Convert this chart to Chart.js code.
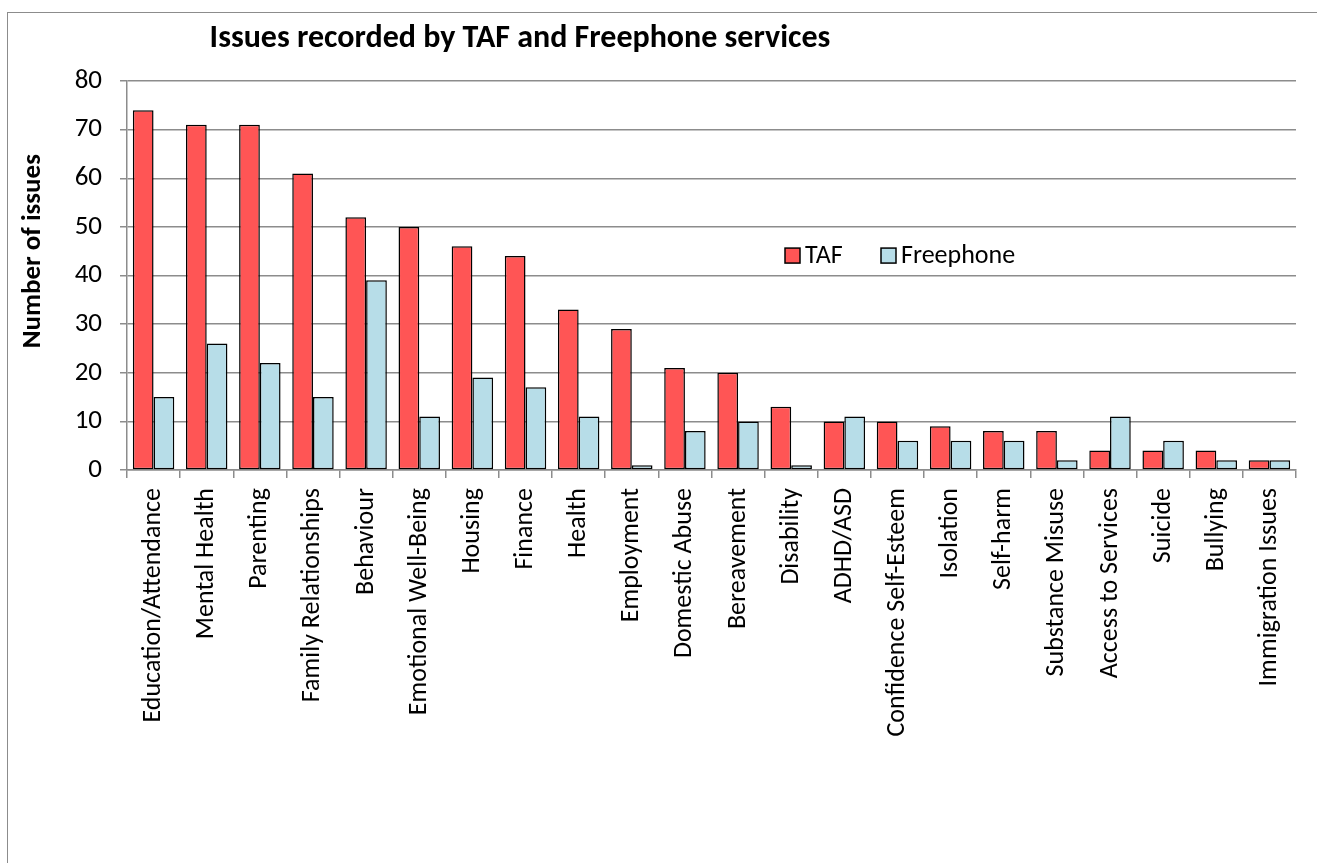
<!DOCTYPE html>
<html>
<head>
<meta charset="utf-8">
<script src="https://cdn.jsdelivr.net/npm/chart.js@4.4.1/dist/chart.umd.min.js"></script>
<style>
  html, body { margin: 0; padding: 0; background: #fff; }
  #frame { position: absolute; left: 7px; top: 12px; width: 1330px; height: 900px; border: 1.5px solid #8c8c8c; }
  #myChart { position: absolute; left: 0; top: 0; }
</style>
</head>
<body>
<div id="frame"></div>
<canvas id="myChart" width="1317" height="863"></canvas>
<script>
// data
const categories = ['Education/Attendance', 'Mental Health', 'Parenting', 'Family Relationships', 'Behaviour',
  'Emotional Well-Being', 'Housing', 'Finance', 'Health', 'Employment', 'Domestic Abuse', 'Bereavement',
  'Disability', 'ADHD/ASD', 'Confidence Self-Esteem', 'Isolation', 'Self-harm', 'Substance Misuse',
  'Access to Services', 'Suicide', 'Bullying', 'Immigration Issues'];
const tafValues = [74, 71, 71, 61, 52, 50, 46, 44, 33, 29, 21, 20, 13, 10, 10, 9, 8, 8, 4, 4, 4, 2];
const freephoneValues = [15, 26, 22, 15, 39, 11, 19, 17, 11, 1, 8, 10, 1, 11, 6, 6, 6, 2, 11, 6, 2, 2];
const seriesNames = ['TAF', 'Freephone'];
const seriesColors = ['#ff5555', '#b7dde8'];

const FONT = "Carlito, Calibri, 'Liberation Sans', sans-serif";

// titel, y-as titel en legenda zelf tekenen (staan niet op de standaard plek)
const extras = {
  id: 'extras',
  afterDraw(chart) {
    const ctx = chart.ctx;
    const area = chart.chartArea;
    const y = chart.scales.y.getPixelForValue(44.2);
    ctx.save();
    ctx.fillStyle = '#000';
    ctx.textBaseline = 'middle';
    ctx.textAlign = 'center';
    ctx.font = "bold 32px " + FONT;
    ctx.fillText('Issues recorded by TAF and Freephone services', 520, 39);

    // y-as titel, iets hoger dan het midden zoals in het origineel
    ctx.save();
    ctx.translate(33, chart.scales.y.getPixelForValue(45));
    ctx.rotate(-Math.PI / 2);
    ctx.font = "bold 27px " + FONT;
    ctx.fillText('Number of issues', 0, 0);
    ctx.restore();

    ctx.font = "26px " + FONT;
    ctx.textAlign = 'left';
    let x = area.left + 658;
    seriesNames.forEach((name, i) => {
      ctx.fillStyle = seriesColors[i];
      ctx.fillRect(x, y - 7, 15, 15);
      ctx.strokeStyle = '#000';
      ctx.lineWidth = 1.5;
      ctx.strokeRect(x, y - 7, 15, 15);
      ctx.fillStyle = '#000';
      ctx.fillText(name, x + 20, y + 1);
      x += 96;
    });
    ctx.restore();
  }
};

const ctx = document.getElementById('myChart').getContext('2d');
const myChart = new Chart(ctx, {
  type: 'bar',
  data: {
    labels: categories,
    datasets: [{
      label: seriesNames[0],
      data: tafValues,
      backgroundColor: seriesColors[0],
      borderColor: '#000',
      borderWidth: 1.5,
      borderSkipped: false
    }, {
      label: seriesNames[1],
      data: freephoneValues,
      backgroundColor: seriesColors[1],
      borderColor: '#000',
      borderWidth: 1.5,
      borderSkipped: false
    }]
  },
  options: {
    responsive: false,
    animation: false,
    layout: { padding: { left: 0, top: 81, right: 21, bottom: 0 } },
    datasets: { bar: { categoryPercentage: 0.78, barPercentage: 1.0 } },
    plugins: {
      legend: { display: false },
      title: { display: false },
      tooltip: { enabled: false }
    },
    scales: {
      x: {
        afterFit(scale) { scale.height = 393; },
        grid: { display: true, drawOnChartArea: false, drawTicks: true, tickLength: 8, color: '#8c8c8c', lineWidth: 1.5, offset: true },
        border: { display: true, color: '#8c8c8c', width: 1.5 },
        ticks: {
          color: '#000',
          font: { family: FONT, size: 26 },
          minRotation: 90, maxRotation: 90,
          autoSkip: false,
          padding: 10
        }
      },
      y: {
        min: 0, max: 80,
        afterFit(scale) { scale.width = 127; },
        grid: { color: '#8c8c8c', lineWidth: 1.5, tickLength: 7 },
        border: { display: true, color: '#8c8c8c', width: 1.5 },
        ticks: {
          stepSize: 10,
          color: '#000',
          font: { family: FONT, size: 27 },
          padding: 18
        }
      }
    }
  },
  plugins: [extras]
});
</script>
</body>
</html>
